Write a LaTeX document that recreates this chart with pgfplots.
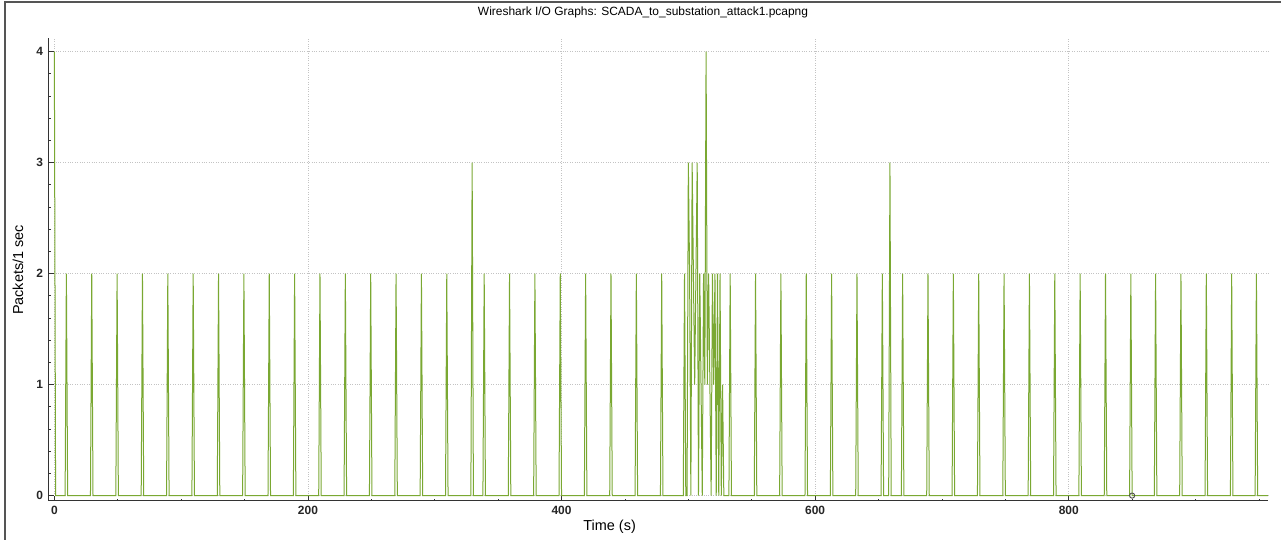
\documentclass[border=0pt]{standalone}
\usepackage{fontspec}
\setmainfont{Liberation Sans}
\usepackage{pgfplots}
\pgfplotsset{compat=1.18}
\definecolor{wsgreen}{RGB}{122,168,50}
\definecolor{gridc}{RGB}{195,195,195}
\definecolor{framec}{RGB}{85,85,85}
\begin{document}
\begin{tikzpicture}[x=1bp,y=1bp]
\path[use as bounding box] (0,0) rectangle (1281,540);
\draw[line width=1.2bp, framec] (5,0) -- (5,538) -- (1281,538);
\node[anchor=center, inner sep=0pt, font=\fontsize{12}{14}\selectfont] at (643,528) {Wireshark I/O Graphs: SCADA\_to\_substation\_attack1.pcapng};
\begin{axis}[
  at={(48.5bp,39.3bp)}, anchor=south west,
  scale only axis, width=1219.8bp, height=462.4bp,
  xmin=-4.6, xmax=957.4, ymin=-0.046, ymax=4.12,
  axis lines=left,
  axis line style={-, line width=1bp, black!80},
  tick align=inside,
  major tick length=5bp, minor tick length=2bp,
  tick style={black!80, line width=0.8bp},
  xtick={0,200,...,800},
  minor xtick={50,100,150,250,300,350,450,500,550,650,700,750,850,900,950},
  ytick={0,1,2,3,4},
  minor ytick={0.2,0.4,0.6,0.8,1.2,1.4,1.6,1.8,2.2,2.4,2.6,2.8,3.2,3.4,3.6,3.8},
  grid=major,
  major grid style={gridc, dotted, line width=0.8bp},
  /pgf/number format/assume math mode=true,
  tick label style={font=\fontsize{12}{14}\selectfont\bfseries, black!85},
  xticklabel style={yshift=-1.5bp},
  yticklabel style={xshift=-2bp},
  xlabel={Time (s)},
  xlabel style={at={(axis description cs:0.460,-0.057)}, anchor=center, font=\fontsize{14.5}{16}\selectfont},
  ylabel={Packets/1 sec},
  ylabel style={at={(axis description cs:-0.025,0.499)}, anchor=center, rotate=0, font=\fontsize{14.5}{16}\selectfont},
  clip=false,
]
\addplot[wsgreen, line width=1bp, line join=miter] coordinates {
(0,4) (1,0)
(8.5,0) (9.5,2) (10.5,0)
(28.5,0) (29.5,2) (30.5,0)
(48.5,0) (49.5,2) (50.5,0)
(68.5,0) (69.5,2) (70.5,0)
(88.5,0) (89.5,2) (90.5,0)
(108.5,0) (109.5,2) (110.5,0)
(128.5,0) (129.5,2) (130.5,0)
(148.5,0) (149.5,2) (150.5,0)
(168.5,0) (169.5,2) (170.5,0)
(188.5,0) (189.5,2) (190.5,0)
(208.5,0) (209.5,2) (210.5,0)
(228.5,0) (229.5,2) (230.5,0)
(248.5,0) (249.5,2) (250.5,0)
(268.5,0) (269.5,2) (270.5,0)
(288.5,0) (289.5,2) (290.5,0)
(308.5,0) (309.5,2) (310.5,0)
(328.5,0) (329.5,3) (330.5,0)
(338,0) (339,2) (340,0)
(358,0) (359,2) (360,0)
(378,0) (379,2) (380,0)
(398,0) (399,2) (400,0)
(418,0) (419,2) (420,0)
(438,0) (439,2) (440,0)
(458,0) (459,2) (460,0)
(478,0) (479,2) (480,0)
(496,0) (497,2) (498,0) (499,0) (500,3) (501,2) (502,0) (503,3) (504,2)
(505,1) (506,2) (507,3) (508,0) (509,2) (510,1) (511,0) (512,2) (513,1)
(514,4) (515,1) (516,2) (517,1) (518,0) (519,2) (520,1) (521,2) (522,0)
(523,2) (524,0) (525,2) (526,0) (527,1) (528,0)
(532,0) (533,2) (534,0)
(552,0) (553,2) (554,0)
(572,0) (573,2) (574,0)
(592,0) (593,2) (594,0)
(612,0) (613,2) (614,0)
(632,0) (633,2) (634,0)
(652,0) (653,2) (654,0)
(658,0) (659,3) (660,0)
(668,0) (669,2) (670,0)
(688,0) (689,2) (690,0)
(708,0) (709,2) (710,0)
(728,0) (729,2) (730,0)
(748,0) (749,2) (750,0)
(768,0) (769,2) (770,0)
(788,0) (789,2) (790,0)
(808,0) (809,2) (810,0)
(828,0) (829,2) (830,0)
(848,0) (849,2) (850,0)
(867.5,0) (868.5,2) (869.5,0)
(887.5,0) (888.5,2) (889.5,0)
(907.5,0) (908.5,2) (909.5,0)
(927.5,0) (928.5,2) (929.5,0)
(947,0) (948,2) (949,0)
(957,0)
};
\addplot[only marks, mark=o, mark size=2.6bp, mark options={draw=black!70, line width=0.9bp}] coordinates {(850,0)};
\end{axis}
\end{tikzpicture}
\end{document}
